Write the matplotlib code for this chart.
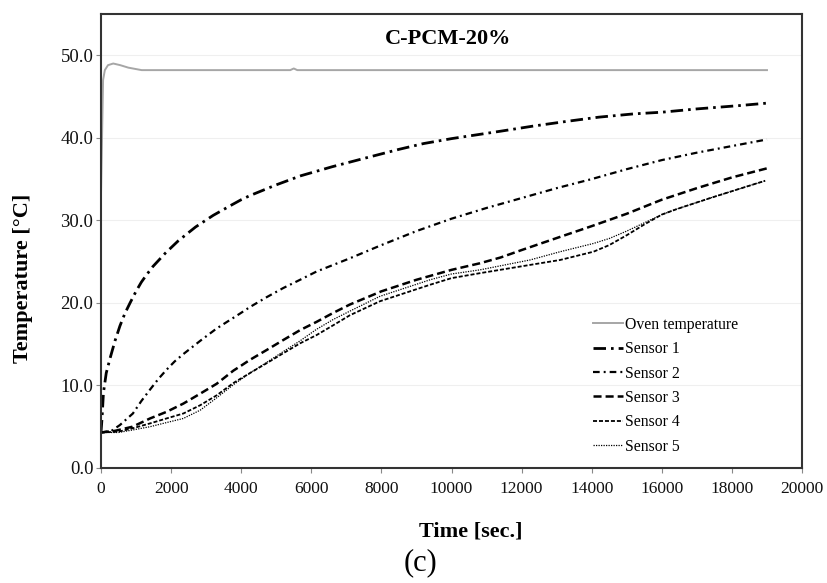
import numpy as np
import matplotlib
matplotlib.use("Agg")
import matplotlib.pyplot as plt
from matplotlib.ticker import MultipleLocator, FormatStrFormatter

plt.rcParams['font.family'] = ['Liberation Serif', 'DejaVu Serif']
plt.rcParams['lines.scale_dashes'] = False

# data (time in s, temperature in degC)
oven_t = [0, 30, 60, 110, 200, 350, 550, 780, 1160, 2000, 5400, 5500, 5600, 10000, 19000]
oven_T = [33.0, 40.0, 47.0, 48.2, 48.8, 49.0, 48.8, 48.5, 48.2, 48.2, 48.2, 48.4, 48.2, 48.2, 48.2]

s1_t = [0, 30, 70, 150, 260, 400, 540, 680, 830, 1000, 1150, 1300, 1480, 1830, 2200, 2700,
        3200, 3700, 4000, 4250, 5000, 5700, 6600, 7500, 8500, 9200, 10000, 11400, 12300,
        13300, 14200, 15200, 16000, 17000, 18200, 19000]
s1_T = [4.3, 6.0, 9.1, 11.5, 13.3, 15.4, 17.2, 18.7, 20.0, 21.4, 22.5, 23.4, 24.4, 26.0, 27.5, 29.2,
        30.6, 31.8, 32.5, 33.0, 34.3, 35.4, 36.5, 37.5, 38.6, 39.3, 39.9, 40.8, 41.4,
        42.0, 42.5, 42.9, 43.1, 43.5, 43.9, 44.2]

s2_t = [0, 300, 540, 910, 1150, 1400, 1640, 1870, 2100, 2350, 2830, 3300, 3780, 4000, 4250,
        4730, 5200, 5680, 6150, 7100, 8000, 9000, 10000, 11000, 12000, 13000, 14000, 15000,
        16000, 17000, 18000, 19000]
s2_T = [4.3, 4.5, 5.2, 6.6, 8.1, 9.5, 10.8, 11.9, 12.9, 13.8, 15.4, 16.9, 18.2, 18.8, 19.5,
        20.7, 21.8, 22.8, 23.8, 25.4, 27.0, 28.7, 30.2, 31.5, 32.7, 33.9, 35.0, 36.2,
        37.3, 38.2, 39.0, 39.8]

s3_t = [0, 400, 900, 1400, 1870, 2350, 2830, 3300, 3780, 4000, 4250, 4730, 5200, 5680, 6150,
        6630, 7100, 8000, 9000, 10000, 10810, 11400, 12000, 13100, 14000, 15000, 16000, 17000,
        18000, 19000]
s3_T = [4.3, 4.5, 5.0, 6.0, 6.8, 7.8, 9.0, 10.2, 11.8, 12.4, 13.1, 14.3, 15.5, 16.7, 17.7,
        18.8, 19.8, 21.4, 22.8, 24.0, 24.8, 25.5, 26.4, 28.0, 29.3, 30.8, 32.5, 33.9,
        35.2, 36.3]

s4_t = [0, 500, 900, 1400, 1870, 2350, 2830, 3300, 3780, 4250, 4730, 5200, 5680, 6150, 6630,
        7100, 7960, 9390, 10000, 10810, 12240, 13100, 14050, 14500, 15000, 15500, 16000, 16450,
        17380, 18200, 18950]
s4_T = [4.3, 4.4, 4.8, 5.4, 6.0, 6.6, 7.6, 8.8, 10.3, 11.5, 12.7, 13.9, 15.1, 16.1, 17.3,
        18.5, 20.2, 22.2, 23.0, 23.6, 24.6, 25.2, 26.2, 27.0, 28.2, 29.5, 30.7, 31.4,
        32.7, 33.8, 34.8]

s5_t = [0, 500, 900, 1400, 1870, 2350, 2830, 3300, 3780, 4250, 4730, 5200, 5680, 6150, 6630,
        7100, 7960, 9390, 10000, 10810, 12240, 13100, 14050, 14500, 15000, 15500, 16000, 16450,
        17380, 18200, 18950]
s5_T = [4.3, 4.3, 4.6, 5.0, 5.5, 6.0, 7.0, 8.5, 10.1, 11.5, 12.8, 14.1, 15.4, 16.8, 18.0,
        19.0, 20.8, 22.8, 23.5, 24.0, 25.2, 26.2, 27.2, 27.8, 28.7, 29.7, 30.7, 31.4,
        32.7, 33.8, 34.8]

labels = ['Oven temperature', 'Sensor 1', 'Sensor 2', 'Sensor 3', 'Sensor 4', 'Sensor 5']

fig = plt.figure(figsize=(8.27, 5.83), dpi=100)
ax = fig.add_axes([0.1221, 0.1973, 0.8477, 0.7787])

ax.plot(oven_t, oven_T, color='#a6a6a6', lw=1.4, label=labels[0])
ax.plot(s1_t, s1_T, color='black', lw=2.0, dashes=(9, 3.6, 1.9, 3.6), label=labels[1])
ax.plot(s2_t, s2_T, color='black', lw=1.6, dashes=(4.8, 2.9, 1.4, 2.9), label=labels[2])
ax.plot(s3_t, s3_T, color='black', lw=1.8, dashes=(5.8, 2.9), label=labels[3])
ax.plot(s4_t, s4_T, color='black', lw=1.3, dashes=(2.9, 1.4), label=labels[4])
ax.plot(s5_t, s5_T, color='black', lw=0.9, dashes=(0.9, 0.9), label=labels[5])

ax.set_xlim(0, 20000)
ax.set_ylim(0, 55)
ax.xaxis.set_major_locator(MultipleLocator(2000))
ax.yaxis.set_major_locator(MultipleLocator(10))
ax.yaxis.set_major_formatter(FormatStrFormatter('%.1f'))
ax.yaxis.grid(True, color='#efefef', lw=0.8)
ax.set_axisbelow(True)

for sp in ax.spines.values():
    sp.set_color('#333333')
    sp.set_linewidth(1.5)
ax.tick_params(axis='both', direction='out', length=3.5, width=0.8, color='#888888',
               labelcolor='#111111')
ax.tick_params(axis='x', labelsize=12.5, pad=6)
ax.tick_params(axis='y', labelsize=13.5, pad=2)

leg = ax.legend(loc='upper left', bbox_to_anchor=(0.7167, 0.4563), bbox_transform=fig.transFigure,
                frameon=False, fontsize=11.3, handlelength=1.9, handletextpad=0.15,
                labelspacing=0.53, borderpad=0, borderaxespad=0)

fig.text(0.5417, 0.9331, 'C-PCM-20%', ha='center', va='center', fontsize=16, fontweight='bold')
fig.text(0.5695, 0.0875, 'Time [sec.]', ha='center', va='center', fontsize=16, fontweight='bold')
fig.text(0.0278, 0.5232, 'Temperature [°C]', ha='center', va='center', rotation=90,
         fontsize=16, fontweight='bold')
fig.text(0.5079, 0.0343, '(c)', ha='center', va='center', fontsize=22)

fig.savefig('out.png', dpi=100)
